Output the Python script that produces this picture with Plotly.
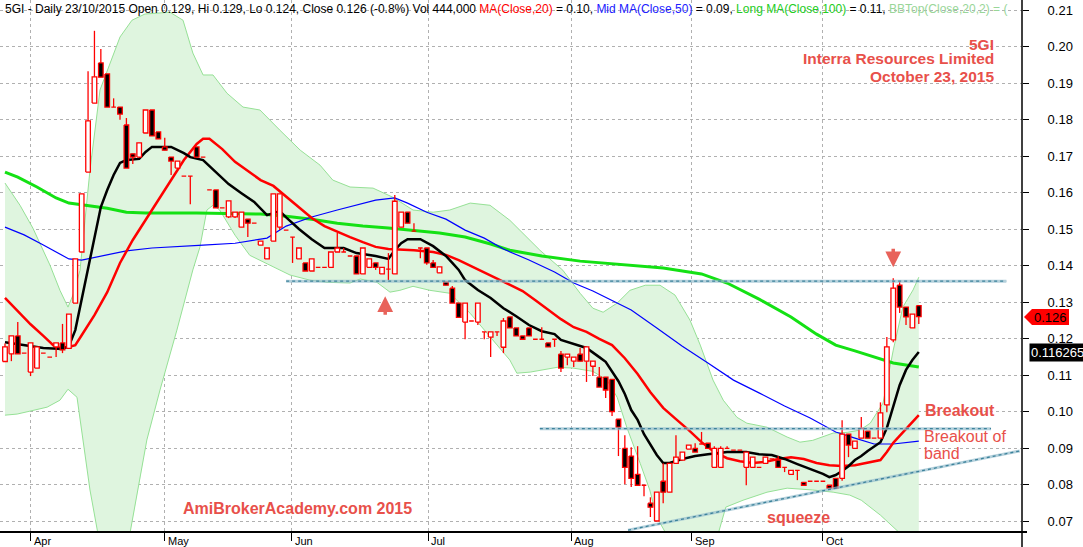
import plotly.graph_objects as go

# ---------------- data ----------------
open_ = [.1137,.1158,.1207,.1160,.1108,.1119,.1160,.1149,.1177,.1188,
         .1173,.1297,.1437,.1656,.1845,.1955,.1925,.1834,.1834,.1785,
         .1706,.1697,.1763,.1826,.1766,.1725,.1697,.1667,.1645,.1645,
         .1725,.1697,.1607,.1607,.1558,.1533,.1533,.1505,.1527,.1516,
         .1456,.1418,.1467,.1505,.1497,.1478,.1418,.1407,.1385,.1395,
         .1395,.1395,.1437,.1437,.1426,.1426,.1377,.1395,.1407,.1377,
         .1390,.1377,.1505,.1546,.1494,.1448,.1448,.1407,.1380,.1355,
         .1338,.1297,.1245,.1248,.1245,.1218,.1204,.1218,.1176,.1259,
         .1229,.1207,.1229,.1198,.1198,.1188,.1198,.1157,.1149,.1138,
         .1157,.1138,.1124,.1094,.1094,.1088,.0979,.0899,.0878,.0828,
         .0798,.0749,.0700,.0809,.0779,.0858,.0867,.0897,.0899,.0911,
         .0913,.0847,.0847,.0899,.0894,.0894,.0847,.0847,.0847,.0858,
         .0870,.0867,.0847,.0828,.0839,.0806,.0809,.0809,.0809,.0798,
         .0817,.0817,.0938,.0899,.0927,.0946,.0927,.0927,.1018,.1196,
         .1346,.1286,.1229,.129]
high = [.1186,.1207,.1245,.1160,.1188,.1177,.1160,.1149,.1188,.1240,
        .1267,.1418,.1596,.1932,.2043,.1993,.1925,.1858,.1834,.1804,
        .1706,.1736,.1826,.1826,.1766,.1750,.1697,.1686,.1645,.1645,
        .1725,.1697,.1607,.1607,.1558,.1577,.1546,.1546,.1527,.1516,
        .1467,.1448,.1596,.1596,.1497,.1478,.1448,.1407,.1418,.1395,
        .1395,.1437,.1489,.1448,.1426,.1426,.1448,.1418,.1407,.1395,
        .1434,.1593,.1546,.1546,.1516,.1448,.1448,.1415,.1396,.1355,
        .1344,.1297,.1297,.1248,.1297,.1218,.1218,.1218,.1256,.1259,
        .1229,.1207,.1229,.1198,.1231,.1188,.1198,.1166,.1157,.1149,
        .1174,.1177,.1138,.1122,.1094,.1088,.0979,.0935,.0902,.0905,
        .0798,.0765,.0779,.0858,.0858,.0935,.0889,.0908,.0913,.0944,
        .0913,.0905,.0905,.0905,.0894,.0894,.0889,.0875,.0847,.0875,
        .0870,.0878,.0847,.0839,.0839,.0806,.0809,.0809,.0809,.0798,
        .0817,.0976,.0938,.0919,.0985,.0946,.0927,.1025,.1204,.1365,
        .1355,.1286,.1267,.129]
low = [.1137,.1138,.1158,.1160,.1097,.1119,.1160,.1149,.1149,.1160,
       .1173,.1297,.1437,.1656,.1845,.1917,.1834,.1834,.1799,.1667,
       .1678,.1697,.1763,.1755,.1747,.1716,.1648,.1667,.1645,.1568,
       .1697,.1697,.1607,.1558,.1558,.1530,.1530,.1505,.1478,.1516,
       .1456,.1418,.1467,.1497,.1497,.1407,.1418,.1385,.1385,.1395,
       .1395,.1395,.1437,.1437,.1426,.1377,.1377,.1395,.1388,.1377,
       .1360,.1377,.1505,.1516,.1494,.1420,.1402,.1395,.1380,.1346,
       .1297,.1258,.1198,.1248,.1237,.1198,.1149,.1207,.1160,.1229,
       .1207,.1198,.1207,.1198,.1198,.1177,.1177,.1108,.1127,.1122,
       .1138,.1081,.1097,.1067,.1037,.0988,.0878,.0801,.0793,.0798,
       .0768,.0711,.0700,.0749,.0779,.0858,.0867,.0897,.0889,.0911,
       .0899,.0847,.0847,.0899,.0894,.0894,.0798,.0847,.0847,.0858,
       .0870,.0847,.0834,.0828,.0812,.0798,.0809,.0809,.0809,.0790,
       .0790,.0810,.0875,.0899,.0927,.0927,.0927,.0927,.0998,.1190,
       .1270,.1237,.1229,.124]
close = [.1177,.1207,.1158,.1160,.1188,.1177,.1160,.1149,.1188,.1169,
         .1267,.1418,.1596,.1796,.1917,.1916,.1834,.1834,.1815,.1667,
         .1697,.1736,.1826,.1755,.1747,.1716,.1686,.1686,.1645,.1645,
         .1697,.1697,.1607,.1558,.1558,.1577,.1546,.1546,.1516,.1516,
         .1467,.1448,.1596,.1596,.1497,.1478,.1448,.1385,.1418,.1395,
         .1395,.1437,.1448,.1437,.1426,.1377,.1448,.1418,.1395,.1395,
         .1390,.1576,.1546,.1516,.1494,.1448,.1407,.1395,.1396,.1346,
         .1297,.1258,.1297,.1248,.1297,.1218,.1218,.1218,.1248,.1229,
         .1207,.1198,.1207,.1198,.1198,.1177,.1198,.1119,.1157,.1149,
         .1138,.1177,.1138,.1067,.1059,.1000,.0957,.0847,.0817,.0798,
         .0798,.0738,.0779,.0779,.0858,.0875,.0889,.0908,.0889,.0911,
         .0899,.0899,.0899,.0899,.0894,.0894,.0889,.0875,.0847,.0875,
         .0870,.0847,.0847,.0839,.0839,.0798,.0809,.0809,.0809,.0790,
         .0790,.0938,.0908,.0919,.0954,.0927,.0927,.0996,.1177,.1338,
         .1286,.1259,.1267,.126]
bar_index = list(range(len(close)))

month_labels = ["Apr", "May", "Jun", "Jul", "Aug", "Sep", "Oct"]
month_pos = [4, 25, 44.9, 66.2, 88.6, 107.5, 128]

short_ma_x = [0,3,6,9,10,11,12,13,14,15,16,17,18,19,21,22,23,26,28,29,31,33,35,37,39,41,42,43,44,46,48,50,53,55,58,60,61,62,63,65,67,69,70,71,72,74,76,78,80,82,84,86,87,89,91,93,94,96,97,98,99,100,101,102,103,104,106,108,110,113,116,118,120,122,124,126,128,129,130,131,132,133,134,135,136,137,138,139,140,141,142,143]
short_ma_y = [.1190,.1182,.1174,.1171,.1179,.1223,.1305,.1393,.1475,.1560,.1607,.1648,.1681,.1689,.1692,.1711,.1725,.1725,.1708,.1697,.1689,.1656,.1623,.1598,.1574,.1538,.1543,.1549,.1532,.1500,.1472,.1448,.1448,.1434,.1426,.1418,.1442,.1461,.1472,.1472,.1453,.1426,.1407,.1388,.1360,.1333,.1311,.1283,.1261,.1237,.1220,.1212,.1196,.1185,.1174,.1149,.1136,.1083,.1048,.1004,.0977,.0938,.0908,.0881,.0859,.0859,.0870,.0878,.0883,.0889,.0889,.0883,.0881,.0870,.0856,.0843,.0829,.0820,.0826,.0837,.0850,.0867,.0878,.0892,.0903,.0916,.0955,.1017,.1072,.1114,.1141,.1163]

ma20_x = [0,2,4,6,8,10,11,12,13,14,16,18,20,22,24,26,28,30,31,32,34,36,38,40,42,44,46,48,50,52,54,56,58,60,64,67,69,71,73,75,77,79,81,83,85,87,89,91,93,95,97,99,101,103,105,107,109,111,113,115,117,119,121,123,125,127,129,131,133,135,137,138,139,140,141,142,143]
ma20_y = [.1311,.1275,.1239,.1207,.1174,.1177,.1182,.1209,.1237,.1264,.1327,.1407,.1470,.1525,.1579,.1634,.1689,.1733,.1747,.1747,.1719,.1684,.1659,.1634,.1618,.1588,.1560,.1530,.1508,.1492,.1478,.1464,.1451,.1445,.1442,.1437,.1429,.1415,.1398,.1382,.1366,.1349,.1330,.1305,.1278,.1253,.1231,.1218,.1199,.1182,.1146,.1103,.1053,.1010,.0979,.0949,.0916,.0889,.0872,.0864,.0859,.0862,.0870,.0875,.0870,.0859,.0853,.0851,.0853,.0859,.0867,.0889,.0914,.0933,.0952,.0971,.0990]

ma50_x = [0,3,6,9,10,12,15,19,23,27,31,36,41,44,48,52,55,58,61,63,66,69,72,75,78,82,86,89,92,95,98,102,106,110,114,118,122,126,130,133,136,139,143]
ma50_y = [.1505,.1484,.1456,.1426,.1418,.1415,.1426,.1440,.1448,.1451,.1456,.1461,.1475,.1508,.1533,.1552,.1565,.1579,.1585,.1571,.1546,.1527,.1497,.1475,.1445,.1415,.1382,.1352,.1330,.1303,.1278,.1229,.1179,.1133,.1086,.1051,.1015,.0982,.0944,.0927,.0911,.0911,.0919]

ma100_x = [0,2,5,8,10,13,16,19,22,30,40,44,48,52,56,60,64,68,72,76,79,84,90,97,103,109,113,118,123,127,130,133,136,139,143]
ma100_y = [.1656,.1642,.1615,.1585,.1571,.1563,.1557,.1546,.1544,.1544,.1541,.1535,.1527,.1516,.1508,.1503,.1497,.1489,.1478,.1459,.1442,.1426,.1412,.1401,.1393,.1377,.1352,.1308,.1259,.1212,.1182,.1166,.1149,.1133,.1122]

bb_top_x = [0,2.35,4.38,7.04,8.6,9.86,10.64,11.74,12.52,13.3,14.87,16.43,18.0,19.87,21.9,25.8,27.86,29.4,31.0,32.55,34.74,37.25,39.9,43.0,46.2,49.3,51.3,54.0,57.6,60.7,63.85,67.0,69.6,72.8,75.9,79.0,83.7,87.3,90.0,92.0,93.6,95.8,97.8,100.2,102.5,104.85,107.2,108.8,110.8,112.4,114.55,116.1,119.25,122.4,124.4,126.4,129.6,131.8,133.8,135.4,137.4,139.0,140.5,142.1,143]
bb_top_y = [.1626,.1565,.1502,.1401,.1332,.1286,.1319,.1387,.1524,.1661,.1881,.1954,.2026,.2072,.2089,.2094,.2072,.1982,.1922,.1922,.1872,.1834,.1826,.1771,.1716,.1675,.1634,.1615,.1612,.1587,.1552,.1546,.1552,.1571,.1565,.1524,.1442,.1387,.1324,.1283,.1272,.1297,.1332,.1346,.1346,.1319,.1250,.1182,.1086,.1031,.0984,.0968,.0957,.0930,.0916,.0921,.0941,.0943,.0949,.0968,.1023,.1168,.1286,.1333,.1368]

bb_bot_x = [0,1.9,3.9,6.6,8.6,9.86,11.27,12.2,13.3,14.87,16.4,18.8,21.1,22.2,24.26,26.9,29.4,30.5,31.6,32.55,33.6,36.0,38.3,41.5,44.6,47.7,50.4,54.0,55.6,58.2,60.25,61.8,63.85,66.5,69.6,72.8,75.9,79.0,80.1,82.2,86.4,88.9,92.0,94.2,95.8,97.3,99.4,100.9,102.0,103.6,107.2,111.1,112.8,115.5,119.25,122.4,126.4,129.6,132.2,134.0,137.0,139.9,143]
bb_bot_y = [.0990,.0993,.1001,.1012,.1031,.1061,.1039,.0922,.0785,.0634,.0566,.0593,.0812,.0922,.1059,.1223,.1388,.1450,.1552,.1565,.1552,.1483,.1428,.1401,.1374,.1360,.1354,.1352,.1363,.1354,.1327,.1332,.1343,.1332,.1324,.1269,.1204,.1141,.1105,.1108,.1121,.1119,.1110,.1086,.1039,.0957,.0858,.0785,.0710,.0661,.0593,.0634,.0738,.0757,.0779,.0790,.0785,.0779,.0771,.0757,.0716,.0669,.0607]

# drawn study lines (start index, start value, end index, end value)
resist_line = (44, .1357, 156.7, .1357)
band_line = (83.7, .0953, 154.3, .0953)
support_line = (97.5, .0675, 158.8, .0892)

last_close = 0.126
last_short = 0.116265

# ---------------- figure ----------------
W, H = 1083, 547
L, R, T, B = 0, 61, 0, 15
PW, PH = W - L - R, H - T - B

def px(x):
    return x / PW

def py(y):
    return (PH - y) / PH

RED_TXT = "#E8504A"
fig = go.Figure()

# Bollinger band fill
fig.add_trace(go.Scatter(x=bb_top_x + bb_bot_x[::-1], y=bb_top_y + bb_bot_y[::-1],
                         fill="toself", fillcolor="rgb(223,245,223)", mode="none",
                         hoverinfo="skip", showlegend=False))
fig.add_trace(go.Scatter(x=bb_top_x, y=bb_top_y, mode="lines",
                         line=dict(color="rgb(150,225,150)", width=1), showlegend=False))
fig.add_trace(go.Scatter(x=bb_bot_x, y=bb_bot_y, mode="lines",
                         line=dict(color="rgb(150,225,150)", width=1), showlegend=False))
# moving averages
fig.add_trace(go.Scatter(x=ma100_x, y=ma100_y, mode="lines",
                         line=dict(color="rgb(20,225,20)", width=3), showlegend=False))
fig.add_trace(go.Scatter(x=ma50_x, y=ma50_y, mode="lines",
                         line=dict(color="#0000FF", width=1.2), showlegend=False))
fig.add_trace(go.Scatter(x=ma20_x, y=ma20_y, mode="lines",
                         line=dict(color="#FF0000", width=2.5), showlegend=False))
fig.add_trace(go.Scatter(x=short_ma_x, y=short_ma_y, mode="lines",
                         line=dict(color="#000000", width=2.5), showlegend=False))

# candles built from scatter paths (so they sit above the band fill)
HW = 0.36
wx, wy = [], []
ux, uy, dx_, dy_ = [], [], [], []
for i, o, h, l, c in zip(bar_index, open_, high, low, close):
    wx += [i, i, None]
    wy += [l, h, None]
    bx = [i - HW, i + HW, i + HW, i - HW, i - HW, None]
    by = [o, o, c, c, o, None]
    if c > o:
        ux += bx; uy += by
    else:
        dx_ += bx; dy_ += by
fig.add_trace(go.Scatter(x=wx, y=wy, mode="lines", line=dict(color="#FF0000", width=1.3),
                         hoverinfo="skip", showlegend=False))
fig.add_trace(go.Scatter(x=ux, y=uy, mode="lines", fill="toself", fillcolor="white",
                         line=dict(color="#FF0000", width=1.3), hoverinfo="skip", showlegend=False))
fig.add_trace(go.Scatter(x=dx_, y=dy_, mode="lines", fill="toself", fillcolor="black",
                         line=dict(color="#FF0000", width=1.3), hoverinfo="skip", showlegend=False))

shapes = []
for (x0, y0, x1, y1) in [resist_line, band_line, support_line]:
    shapes.append(dict(type="line", xref="x", yref="y", x0=x0, y0=y0, x1=x1, y1=y1,
                       line=dict(color="rgba(150,190,205,0.7)", width=3), layer="above"))
    shapes.append(dict(type="line", xref="x", yref="y", x0=x0, y0=y0, x1=x1, y1=y1,
                       line=dict(color="rgb(60,130,155)", width=1.3, dash="dot"), layer="above"))
# axis frame lines
shapes.append(dict(type="line", xref="paper", yref="paper", x0=1, x1=1, y0=py(547), y1=1,
                   line=dict(color="black", width=1.5)))
shapes.append(dict(type="line", xref="paper", yref="paper", x0=0, x1=px(1027), y0=0, y1=0,
                   line=dict(color="black", width=2)))
# red last price tag
shapes.append(dict(type="path", xref="paper", yref="paper",
                   path=f"M {px(1024)} {py(317)} L {px(1032)} {py(309)} L {px(1069)} {py(309)} "
                        f"L {px(1069)} {py(325)} L {px(1032)} {py(325)} Z",
                   fillcolor="#FF0000", line=dict(width=0)))
fig.update_layout(shapes=shapes)

ann = []
header = ("5GI - Daily 23/10/2015 Open 0.129, Hi 0.129, Lo 0.124, Close 0.126 (-0.8%) Vol 444,000 "
          "<span style='color:#FF0000'>MA(Close,20)</span> = 0.10, "
          "<span style='color:#2020FF'>Mid MA(Close,50)</span> = 0.09, "
          "<span style='color:#22CC22'>Long MA(Close,100)</span> = 0.11, "
          "<span style='color:#99D699'>BBTop(Close,20,2) = (</span>")
ann.append(dict(text=header, xref="paper", yref="paper", x=px(3), y=py(9), xanchor="left",
                yanchor="middle", showarrow=False, font=dict(size=12, color="black")))
for txt, yy in [("5GI", 44), ("Interra Resources Limited", 59), ("October 23, 2015", 76)]:
    ann.append(dict(text=f"<b>{txt}</b>", xref="paper", yref="paper", x=px(996), y=py(yy),
                    xanchor="right", yanchor="middle", showarrow=False,
                    font=dict(size=15.5, color=RED_TXT)))
ann.append(dict(text="<b>AmiBrokerAcademy.com 2015</b>", xref="paper", yref="paper", x=px(181), y=py(508),
                xanchor="left", yanchor="middle", showarrow=False, font=dict(size=16, color=RED_TXT)))
ann.append(dict(text="<b>squeeze</b>", xref="paper", yref="paper", x=px(765), y=py(517),
                xanchor="left", yanchor="middle", showarrow=False, font=dict(size=16, color=RED_TXT)))
ann.append(dict(text="<b>Breakout</b>", xref="paper", yref="paper", x=px(923), y=py(411),
                xanchor="left", yanchor="middle", showarrow=False, font=dict(size=16, color=RED_TXT)))
ann.append(dict(text="Breakout of", xref="paper", yref="paper", x=px(922), y=py(436),
                xanchor="left", yanchor="middle", showarrow=False, font=dict(size=16, color=RED_TXT)))
ann.append(dict(text="band", xref="paper", yref="paper", x=px(922), y=py(453),
                xanchor="left", yanchor="middle", showarrow=False, font=dict(size=16, color=RED_TXT)))
# arrows
ann.append(dict(x=59.5, y=.1316, xref="x", yref="y", ax=0, ay=20, text="", showarrow=True,
                arrowhead=2, arrowsize=0.9, arrowwidth=3.5, arrowcolor="#E8625A"))
ann.append(dict(x=139, y=.1395, xref="x", yref="y", ax=0, ay=-20, text="", showarrow=True,
                arrowhead=2, arrowsize=0.9, arrowwidth=3.5, arrowcolor="#E8625A"))
# month labels
for lab, pos in zip(month_labels, month_pos):
    ann.append(dict(text=lab, xref="x", yref="paper", x=pos, y=py(533), xanchor="left",
                    yanchor="top", xshift=1, showarrow=False, font=dict(size=11, color="black")))
# price tags
ann.append(dict(text=f"{last_close:.3f}", xref="paper", yref="paper", x=px(1050), y=py(317),
                xanchor="center", yanchor="middle", showarrow=False, font=dict(size=13, color="black")))
ann.append(dict(text=f"{last_short}", xref="paper", yref="paper", x=px(1029), y=py(352),
                xanchor="left", yanchor="middle", showarrow=False, bgcolor="black", borderpad=1,
                font=dict(size=13, color="white")))

fig.update_layout(
    width=W, height=H, margin=dict(l=L, r=R, t=T, b=B),
    paper_bgcolor="white", plot_bgcolor="white",
    font=dict(family="Arial, Liberation Sans, sans-serif", size=12, color="black"),
    annotations=ann, showlegend=False,
    xaxis=dict(range=[-0.78, 159.15], showgrid=True, gridcolor="#b0b0b0", griddash="dot",
               tickmode="array", tickvals=month_pos, ticktext=[""] * len(month_pos),
               ticks="outside", ticklen=8, tickcolor="black", tickwidth=1,
               showline=False, zeroline=False, fixedrange=True),
    yaxis=dict(range=[0.06699, 0.21274], side="right", showgrid=True, gridcolor="#b0b0b0",
               griddash="dot", dtick=0.01, tick0=0.07, tickformat=".2f",
               ticks="outside", ticklen=6, tickcolor="black", ticklabelstandoff=16,
               showline=False, zeroline=False, tickfont=dict(size=13), fixedrange=True),
)

fig.write_html("out.html", config={"displayModeBar": False},
               post_script="document.body.style.margin='0';document.body.style.overflow='hidden';")
